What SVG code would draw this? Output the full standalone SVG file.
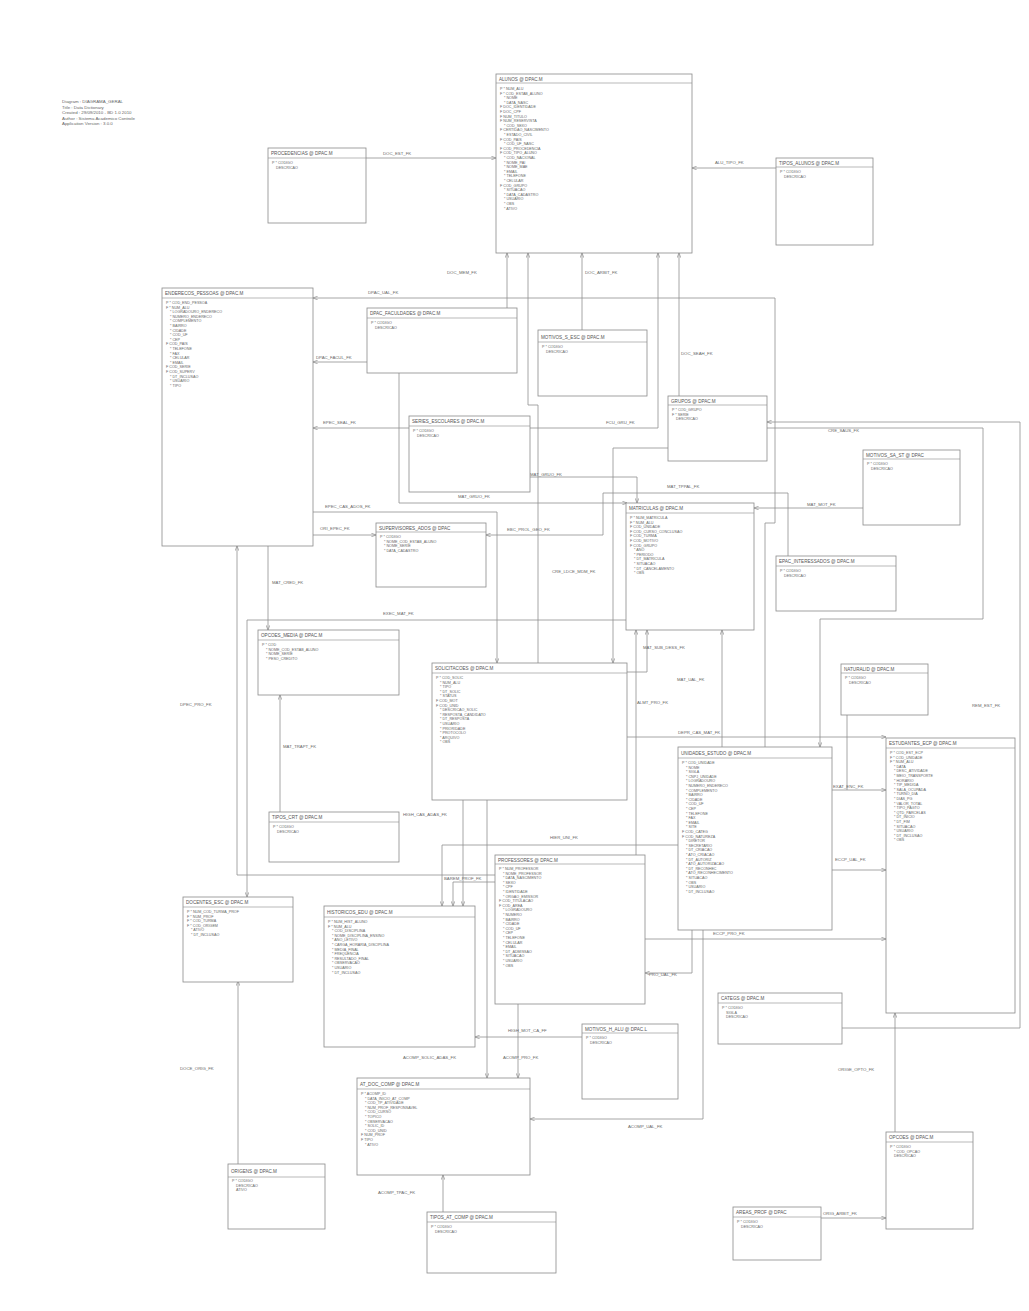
<svg xmlns="http://www.w3.org/2000/svg" width="1029" height="1311" viewBox="0 0 1029 1311">
<style>
.b{fill:#fff;stroke:#8a8a8a;stroke-width:0.8}
.h{stroke:#8a8a8a;stroke-width:0.6}
.t{font-family:"Liberation Sans",Arial,sans-serif;font-size:4.6px;fill:#555}
.a{font-family:"Liberation Sans",Arial,sans-serif;font-size:3.7px;fill:#666}
.c{fill:none;stroke:#8f8f8f;stroke-width:0.8}
.l{font-family:"Liberation Sans",Arial,sans-serif;font-size:4.3px;fill:#666}
.n{font-family:"Liberation Sans",Arial,sans-serif;font-size:4.4px;fill:#666}
</style>
<defs>
<marker id="ar" viewBox="0 0 10 10" refX="10" refY="5" markerWidth="6" markerHeight="6" orient="auto"><path d="M0,1 L10,5 L0,9" fill="none" stroke="#8a8a8a" stroke-width="1.4"/></marker>
</defs>
<rect width="1029" height="1311" fill="#fff"/>

<g id="notes"><text class="n" x="62" y="103"><tspan x="62" dy="0">Diagram : DIAGRAMA_GERAL</tspan><tspan x="62" dy="5.6">Title : Data Dictionary</tspan><tspan x="62" dy="5.6">Created : 29/09/2010 - BD 1.0 2010</tspan><tspan x="62" dy="5.6">Author : Sistema Academico Controle</tspan><tspan x="62" dy="5.6">Application Version : 3.0.0</tspan></text></g>

<g id="connectors">
<path class="c" marker-end="url(#ar)" d="M366,158 H496"/><text class="l" x="383" y="155">DOC_EST_FK</text>
<path class="c" marker-end="url(#ar)" d="M776,168 H692"/><text class="l" x="715" y="164">ALU_TIPO_FK</text>
<path class="c" marker-end="url(#ar)" d="M765,747 V523 H775 V298 H313"/><text class="l" x="368" y="294">DPAC_UAL_FK</text>
<path class="c" marker-end="url(#ar)" d="M507,308 V253"/><text class="l" x="447" y="274">DOC_MEM_FK</text>
<path class="c" marker-end="url(#ar)" d="M538,663 V405 H528 V253"/>
<path class="c" marker-end="url(#ar)" d="M582,330 V253"/><text class="l" x="585" y="274">DOC_ARBIT_FK</text>
<path class="c" marker-end="url(#ar)" d="M409,428 H313"/><text class="l" x="323" y="424">EPEC_SEAL_FK</text>
<path class="c" marker-end="url(#ar)" d="M530,428 H658 V253"/><text class="l" x="606" y="424">FCU_GRU_FK</text>
<path class="c" marker-end="url(#ar)" d="M679,396 V253"/><text class="l" x="681" y="355">DOC_SEAH_FK</text>
<path class="c" marker-end="url(#ar)" d="M367,362 H313"/><text class="l" x="316" y="359">DPAC_FACUL_FK</text>
<path class="c" marker-end="url(#ar)" d="M842,1028 H1020 V422 H767"/><text class="l" x="972" y="707">REM_EST_FK</text>
<path class="c" marker-end="url(#ar)" d="M767,428 H983 V619 H820 V747"/><text class="l" x="828" y="432">CRE_SAUS_FK</text>
<path class="c" marker-end="url(#ar)" d="M863,508 H754"/><text class="l" x="807" y="506">MAT_MOT_FK</text>
<path class="c" marker-end="url(#ar)" d="M528,477 H637 V503"/><text class="l" x="530" y="476">MAT_GRUO_FK</text>
<path class="c" marker-end="url(#ar)" d="M399,373 V503 H627"/><text class="l" x="458" y="498">MAT_GRUO_FK</text>
<path class="c" marker-end="url(#ar)" d="M788,556 V493 H603 V535 H486"/><text class="l" x="507" y="531">EBC_PROL_GEO_FK</text><text class="l" x="667" y="488">MAT_TPPAL_FK</text>
<path class="c" marker-end="url(#ar)" d="M313,535 H376"/><text class="l" x="320" y="530">ORI_EPEC_FK</text>
<path class="c" marker-end="url(#ar)" d="M313,512 H497 V663"/><text class="l" x="325" y="508">EPEC_CAS_ADOS_FK</text>
<path class="c" marker-end="url(#ar)" d="M668,448 H613 V663"/><text class="l" x="552" y="573">CRE_LDCE_MDM_FK</text>
<path class="c" marker-end="url(#ar)" d="M268,546 V630"/><text class="l" x="272" y="584">MAT_CRED_FK</text>
<path class="c" marker-end="url(#ar)" d="M627,620 H247 V897"/><text class="l" x="383" y="615">EXEC_MAT_FK</text>
<path class="c" marker-end="url(#ar)" d="M495,875 H237 V546"/><text class="l" x="180" y="706">DPEC_PRO_FK</text>
<path class="c" marker-end="url(#ar)" d="M280,812 V695"/><text class="l" x="283" y="748">MAT_TRAPT_FK</text>
<path class="c" marker-end="url(#ar)" d="M463,800 V906"/><text class="l" x="403" y="816">HIGH_CAS_ADAS_FK</text>
<path class="c" marker-end="url(#ar)" d="M487,800 V1078"/><text class="l" x="403" y="1059">ACOMP_SOLIC_ADAS_FK</text>
<path class="c" marker-end="url(#ar)" d="M678,845 H442 V906"/><text class="l" x="550" y="839">HIER_UNI_FK</text>
<path class="c" marker-end="url(#ar)" d="M495,882 H453 V906"/><text class="l" x="444" y="880">BAREM_PROF_FK</text>
<path class="c" marker-end="url(#ar)" d="M518,1004 V1078"/><text class="l" x="503" y="1059">ACOMP_PRO_FK</text>
<path class="c" marker-end="url(#ar)" d="M582,1037 H475"/><text class="l" x="508" y="1032">HIGH_MOT_CA_FF</text>
<path class="c" marker-end="url(#ar)" d="M703,930 V1119 H530"/><text class="l" x="628" y="1128">ACOMP_UAL_FK</text>
<path class="c" marker-end="url(#ar)" d="M692,930 V973 H645"/><text class="l" x="649" y="976">PRO_UAL_FK</text>
<path class="c" marker-end="url(#ar)" d="M645,939 H886"/><text class="l" x="713" y="935">ECCP_PRO_FK</text>
<path class="c" marker-end="url(#ar)" d="M830,870 H886"/><text class="l" x="835" y="861">ECCP_UAL_FK</text>
<path class="c" marker-end="url(#ar)" d="M847,715 V790 H886"/><path class="c" d="M830,790 H847"/><text class="l" x="833" y="788">EXAT_ENC_FK</text>
<path class="c" marker-end="url(#ar)" d="M626,737 H886"/><text class="l" x="678" y="734">DEPR_CAS_MAT_FK</text>
<path class="c" marker-end="url(#ar)" d="M722,747 V630"/><text class="l" x="677" y="681">MAT_UAL_FK</text>
<path class="c" marker-end="url(#ar)" d="M636,855 V630"/><text class="l" x="637" y="704">ALMT_PRO_FK</text>
<path class="c" marker-end="url(#ar)" d="M626,672 H647 V630"/><text class="l" x="643" y="649">MAT_SUB_DESS_FK</text>
<path class="c" marker-end="url(#ar)" d="M238,1164 V981"/><text class="l" x="180" y="1070">DOCE_ORIG_FK</text>
<path class="c" marker-end="url(#ar)" d="M443,1212 V1175"/><text class="l" x="378" y="1194">ACOMP_TPAC_FK</text>
<path class="c" marker-end="url(#ar)" d="M821,1218 H886"/><text class="l" x="823" y="1215">ORIG_ARBIT_FK</text>
<path class="c" marker-end="url(#ar)" d="M895,1132 V1013"/><text class="l" x="838" y="1071">ORIGE_OPTO_FK</text>
</g>

<g id="n_procedencias"><rect class="b" x="268" y="148" width="98" height="75"/><line class="h" x1="268" y1="158" x2="366" y2="158"/><text class="t" x="271" y="155">PROCEDENCIAS @ DPAC.M</text><text class="a" x="272" y="164"><tspan x="272" dy="0">P * CODIGO</tspan><tspan x="276" dy="4.6">DESCRICAO</tspan></text></g>

<g id="n_alunos"><rect class="b" x="496" y="74" width="196" height="179"/><line class="h" x1="496" y1="83" x2="692" y2="83"/><text class="t" x="499" y="80.5">ALUNOS @ DPAC.M</text><text class="a" x="500" y="90"><tspan x="500" dy="0">P * NUM_ALU</tspan><tspan x="500" dy="4.6">F * COD_ESTAB_ALUNO</tspan><tspan x="504" dy="4.6">* NOME</tspan><tspan x="504" dy="4.6">* DATA_NASC</tspan><tspan x="500" dy="4.6">F DOC_IDENTIDADE</tspan><tspan x="500" dy="4.6">F DOC_CPF</tspan><tspan x="500" dy="4.6">F NUM_TITULO</tspan><tspan x="500" dy="4.6">F NUM_RESERVISTA</tspan><tspan x="504" dy="4.6">* COD_SEXO</tspan><tspan x="500" dy="4.6">F CERTIDAO_NASCIMENTO</tspan><tspan x="504" dy="4.6">* ESTADO_CIVIL</tspan><tspan x="500" dy="4.6">F COD_PAIS</tspan><tspan x="504" dy="4.6">* COD_UF_NASC</tspan><tspan x="500" dy="4.6">F COD_PROCEDENCIA</tspan><tspan x="500" dy="4.6">F COD_TIPO_ALUNO</tspan><tspan x="504" dy="4.6">* COD_NACIONAL</tspan><tspan x="504" dy="4.6">* NOME_PAI</tspan><tspan x="504" dy="4.6">* NOME_MAE</tspan><tspan x="504" dy="4.6">* EMAIL</tspan><tspan x="504" dy="4.6">* TELEFONE</tspan><tspan x="504" dy="4.6">* CELULAR</tspan><tspan x="500" dy="4.6">F COD_GRUPO</tspan><tspan x="504" dy="4.6">* SITUACAO</tspan><tspan x="504" dy="4.6">* DATA_CADASTRO</tspan><tspan x="504" dy="4.6">* USUARIO</tspan><tspan x="504" dy="4.6">* OBS</tspan><tspan x="504" dy="4.6">* ATIVO</tspan></text></g>

<g id="n_tipos_alunos"><rect class="b" x="776" y="158" width="97" height="87"/><line class="h" x1="776" y1="167" x2="873" y2="167"/><text class="t" x="779" y="164.5">TIPOS_ALUNOS @ DPAC.M</text><text class="a" x="780" y="173"><tspan x="780" dy="0">P * CODIGO</tspan><tspan x="784" dy="4.6">DESCRICAO</tspan></text></g>

<g id="n_enderecos"><rect class="b" x="162" y="288" width="151" height="258"/><line class="h" x1="162" y1="298" x2="313" y2="298"/><text class="t" x="165" y="295">ENDERECOS_PESSOAS @ DPAC.M</text><text class="a" x="166" y="304"><tspan x="166" dy="0">P * COD_END_PESSOA</tspan><tspan x="166" dy="4.6">F * NUM_ALU</tspan><tspan x="170" dy="4.6">* LOGRADOURO_ENDERECO</tspan><tspan x="170" dy="4.6">* NUMERO_ENDERECO</tspan><tspan x="170" dy="4.6">* COMPLEMENTO</tspan><tspan x="170" dy="4.6">* BAIRRO</tspan><tspan x="170" dy="4.6">* CIDADE</tspan><tspan x="170" dy="4.6">* COD_UF</tspan><tspan x="170" dy="4.6">* CEP</tspan><tspan x="166" dy="4.6">F COD_PAIS</tspan><tspan x="170" dy="4.6">* TELEFONE</tspan><tspan x="170" dy="4.6">* FAX</tspan><tspan x="170" dy="4.6">* CELULAR</tspan><tspan x="170" dy="4.6">* EMAIL</tspan><tspan x="166" dy="4.6">F COD_SERIE</tspan><tspan x="166" dy="4.6">F COD_SUPERV</tspan><tspan x="170" dy="4.6">* DT_INCLUSAO</tspan><tspan x="170" dy="4.6">* USUARIO</tspan><tspan x="170" dy="4.6">* TIPO</tspan></text></g>

<g id="n_faculdades"><rect class="b" x="367" y="308" width="150" height="65"/><line class="h" x1="367" y1="318" x2="517" y2="318"/><text class="t" x="370" y="315">DPAC_FACULDADES @ DPAC.M</text><text class="a" x="371" y="324"><tspan x="371" dy="0">P * CODIGO</tspan><tspan x="375" dy="4.6">DESCRICAO</tspan></text></g>

<g id="n_motivos_s_esc"><rect class="b" x="538" y="330" width="109" height="66"/><line class="h" x1="538" y1="342" x2="647" y2="342"/><text class="t" x="541" y="338.5">MOTIVOS_S_ESC @ DPAC.M</text><text class="a" x="542" y="348"><tspan x="542" dy="0">P * CODIGO</tspan><tspan x="546" dy="4.6">DESCRICAO</tspan></text></g>

<g id="n_grupos"><rect class="b" x="668" y="396" width="99" height="65"/><line class="h" x1="668" y1="405" x2="767" y2="405"/><text class="t" x="671" y="402.5">GRUPOS @ DPAC.M</text><text class="a" x="672" y="411"><tspan x="672" dy="0">P * COD_GRUPO</tspan><tspan x="672" dy="4.6">F * SERIE</tspan><tspan x="676" dy="4.6">DESCRICAO</tspan></text></g>

<g id="n_series"><rect class="b" x="409" y="416" width="121" height="76"/><line class="h" x1="409" y1="426" x2="530" y2="426"/><text class="t" x="412" y="423">SERIES_ESCOLARES @ DPAC.M</text><text class="a" x="413" y="432"><tspan x="413" dy="0">P * CODIGO</tspan><tspan x="417" dy="4.6">DESCRICAO</tspan></text></g>

<g id="n_motivos_sa"><rect class="b" x="863" y="450" width="97" height="75"/><line class="h" x1="863" y1="459" x2="960" y2="459"/><text class="t" x="866" y="456.5">MOTIVOS_SA_ST @ DPAC</text><text class="a" x="867" y="465"><tspan x="867" dy="0">P * CODIGO</tspan><tspan x="871" dy="4.6">DESCRICAO</tspan></text></g>

<g id="n_supervisores"><rect class="b" x="376" y="523" width="110" height="64"/><line class="h" x1="376" y1="532" x2="486" y2="532"/><text class="t" x="379" y="529.5">SUPERVISORES_ADOS @ DPAC</text><text class="a" x="380" y="538"><tspan x="380" dy="0">P * CODIGO</tspan><tspan x="384" dy="4.6">* NOME_COD_ESTAB_ALUNO</tspan><tspan x="384" dy="4.6">* NOME_SERIE</tspan><tspan x="384" dy="4.6">* DATA_CADASTRO</tspan></text></g>

<g id="n_matriculas"><rect class="b" x="626" y="503" width="128" height="127"/><line class="h" x1="626" y1="513" x2="754" y2="513"/><text class="t" x="629" y="510">MATRICULAS @ DPAC.M</text><text class="a" x="630" y="519"><tspan x="630" dy="0">P * NUM_MATRICULA</tspan><tspan x="630" dy="4.6">F * NUM_ALU</tspan><tspan x="630" dy="4.6">F COD_UNIDADE</tspan><tspan x="630" dy="4.6">F COD_CURSO_CONCLUSAO</tspan><tspan x="630" dy="4.6">F COD_TURMA</tspan><tspan x="630" dy="4.6">F COD_MOTIVO</tspan><tspan x="630" dy="4.6">F COD_GRUPO</tspan><tspan x="634" dy="4.6">* ANO</tspan><tspan x="634" dy="4.6">* PERIODO</tspan><tspan x="634" dy="4.6">* DT_MATRICULA</tspan><tspan x="634" dy="4.6">* SITUACAO</tspan><tspan x="634" dy="4.6">* DT_CANCELAMENTO</tspan><tspan x="634" dy="4.6">* OBS</tspan></text></g>

<g id="n_interessados"><rect class="b" x="776" y="556" width="120" height="55"/><line class="h" x1="776" y1="566" x2="896" y2="566"/><text class="t" x="779" y="563">EPAC_INTERESSADOS @ DPAC.M</text><text class="a" x="780" y="572"><tspan x="780" dy="0">P * CODIGO</tspan><tspan x="784" dy="4.6">DESCRICAO</tspan></text></g>

<g id="n_opcoes_media"><rect class="b" x="258" y="630" width="141" height="65"/><line class="h" x1="258" y1="640" x2="399" y2="640"/><text class="t" x="261" y="637">OPCOES_MEDIA @ DPAC.M</text><text class="a" x="262" y="646"><tspan x="262" dy="0">P * COD</tspan><tspan x="266" dy="4.6">* NOME_COD_ESTAB_ALUNO</tspan><tspan x="266" dy="4.6">* NOME_SERIE</tspan><tspan x="266" dy="4.6">* PESO_CREDITO</tspan></text></g>

<g id="n_solicitacoes"><rect class="b" x="432" y="663" width="195" height="137"/><line class="h" x1="432" y1="673" x2="627" y2="673"/><text class="t" x="435" y="670">SOLICITACOES @ DPAC.M</text><text class="a" x="436" y="679"><tspan x="436" dy="0">P * COD_SOLIC</tspan><tspan x="440" dy="4.6">* NUM_ALU</tspan><tspan x="440" dy="4.6">* TIPO</tspan><tspan x="440" dy="4.6">* DT_SOLIC</tspan><tspan x="440" dy="4.6">* STATUS</tspan><tspan x="436" dy="4.6">F COD_MOT</tspan><tspan x="436" dy="4.6">F COD_UNID</tspan><tspan x="440" dy="4.6">* DESCRICAO_SOLIC</tspan><tspan x="440" dy="4.6">* RESPOSTA_CANDIDATO</tspan><tspan x="440" dy="4.6">* DT_RESPOSTA</tspan><tspan x="440" dy="4.6">* USUARIO</tspan><tspan x="440" dy="4.6">* PRIORIDADE</tspan><tspan x="440" dy="4.6">* PROTOCOLO</tspan><tspan x="440" dy="4.6">* ARQUIVO</tspan><tspan x="440" dy="4.6">* OBS</tspan></text></g>

<g id="n_naturalidades"><rect class="b" x="841" y="664" width="87" height="51"/><line class="h" x1="841" y1="673" x2="928" y2="673"/><text class="t" x="844" y="670.5">NATURALID @ DPAC.M</text><text class="a" x="845" y="679"><tspan x="845" dy="0">P * CODIGO</tspan><tspan x="849" dy="4.6">DESCRICAO</tspan></text></g>

<g id="n_tipos_crt"><rect class="b" x="269" y="812" width="130" height="50"/><line class="h" x1="269" y1="822" x2="399" y2="822"/><text class="t" x="272" y="819">TIPOS_CRT @ DPAC.M</text><text class="a" x="273" y="828"><tspan x="273" dy="0">P * CODIGO</tspan><tspan x="277" dy="4.6">DESCRICAO</tspan></text></g>

<g id="n_unidades"><rect class="b" x="678" y="747" width="154" height="183"/><line class="h" x1="678" y1="758" x2="832" y2="758"/><text class="t" x="681" y="755">UNIDADES_ESTUDO @ DPAC.M</text><text class="a" x="682" y="764"><tspan x="682" dy="0">P * COD_UNIDADE</tspan><tspan x="686" dy="4.6">* NOME</tspan><tspan x="686" dy="4.6">* SIGLA</tspan><tspan x="686" dy="4.6">* CNPJ_UNIDADE</tspan><tspan x="686" dy="4.6">* LOGRADOURO</tspan><tspan x="686" dy="4.6">* NUMERO_ENDERECO</tspan><tspan x="686" dy="4.6">* COMPLEMENTO</tspan><tspan x="686" dy="4.6">* BAIRRO</tspan><tspan x="686" dy="4.6">* CIDADE</tspan><tspan x="686" dy="4.6">* COD_UF</tspan><tspan x="686" dy="4.6">* CEP</tspan><tspan x="686" dy="4.6">* TELEFONE</tspan><tspan x="686" dy="4.6">* FAX</tspan><tspan x="686" dy="4.6">* EMAIL</tspan><tspan x="686" dy="4.6">* SITE</tspan><tspan x="682" dy="4.6">F COD_CATEG</tspan><tspan x="682" dy="4.6">F COD_NATUREZA</tspan><tspan x="686" dy="4.6">* DIRETOR</tspan><tspan x="686" dy="4.6">* SECRETARIO</tspan><tspan x="686" dy="4.6">* DT_CRIACAO</tspan><tspan x="686" dy="4.6">* ATO_CRIACAO</tspan><tspan x="686" dy="4.6">* DT_AUTORIZ</tspan><tspan x="686" dy="4.6">* ATO_AUTORIZACAO</tspan><tspan x="686" dy="4.6">* DT_RECONHEC</tspan><tspan x="686" dy="4.6">* ATO_RECONHECIMENTO</tspan><tspan x="686" dy="4.6">* SITUACAO</tspan><tspan x="686" dy="4.6">* OBS</tspan><tspan x="686" dy="4.6">* USUARIO</tspan><tspan x="686" dy="4.6">* DT_INCLUSAO</tspan></text></g>

<g id="n_estudantes"><rect class="b" x="886" y="738" width="129" height="275"/><line class="h" x1="886" y1="748" x2="1015" y2="748"/><text class="t" x="889" y="745">ESTUDANTES_ECP @ DPAC.M</text><text class="a" x="890" y="754"><tspan x="890" dy="0">P * COD_EST_ECP</tspan><tspan x="890" dy="4.6">F * COD_UNIDADE</tspan><tspan x="890" dy="4.6">F * NUM_ALU</tspan><tspan x="894" dy="4.6">* DATA</tspan><tspan x="894" dy="4.6">* DESC_ATIVIDADE</tspan><tspan x="894" dy="4.6">* MEIO_TRANSPORTE</tspan><tspan x="894" dy="4.6">* HORARIO</tspan><tspan x="894" dy="4.6">* TIP_MEDIDA</tspan><tspan x="894" dy="4.6">* SALA_OCUPADA</tspan><tspan x="894" dy="4.6">* TURNO_DIA</tspan><tspan x="894" dy="4.6">* DIAS_PG</tspan><tspan x="894" dy="4.6">* VALOR_TOTAL</tspan><tspan x="894" dy="4.6">* TIPO_PAGTO</tspan><tspan x="894" dy="4.6">* QTD_PARCELAS</tspan><tspan x="894" dy="4.6">* DT_INICIO</tspan><tspan x="894" dy="4.6">* DT_FIM</tspan><tspan x="894" dy="4.6">* SITUACAO</tspan><tspan x="894" dy="4.6">* USUARIO</tspan><tspan x="894" dy="4.6">* DT_INCLUSAO</tspan><tspan x="894" dy="4.6">* OBS</tspan></text></g>

<g id="n_professores"><rect class="b" x="495" y="855" width="150" height="149"/><line class="h" x1="495" y1="864" x2="645" y2="864"/><text class="t" x="498" y="861.5">PROFESSORES @ DPAC.M</text><text class="a" x="499" y="870"><tspan x="499" dy="0">P * NUM_PROFESSOR</tspan><tspan x="503" dy="4.6">* NOME_PROFESSOR</tspan><tspan x="503" dy="4.6">* DATA_NASCIMENTO</tspan><tspan x="503" dy="4.6">* SEXO</tspan><tspan x="503" dy="4.6">* CPF</tspan><tspan x="503" dy="4.6">* IDENTIDADE</tspan><tspan x="503" dy="4.6">* ORGAO_EMISSOR</tspan><tspan x="499" dy="4.6">F COD_TITULACAO</tspan><tspan x="499" dy="4.6">F COD_AREA</tspan><tspan x="503" dy="4.6">* LOGRADOURO</tspan><tspan x="503" dy="4.6">* NUMERO</tspan><tspan x="503" dy="4.6">* BAIRRO</tspan><tspan x="503" dy="4.6">* CIDADE</tspan><tspan x="503" dy="4.6">* COD_UF</tspan><tspan x="503" dy="4.6">* CEP</tspan><tspan x="503" dy="4.6">* TELEFONE</tspan><tspan x="503" dy="4.6">* CELULAR</tspan><tspan x="503" dy="4.6">* EMAIL</tspan><tspan x="503" dy="4.6">* DT_ADMISSAO</tspan><tspan x="503" dy="4.6">* SITUACAO</tspan><tspan x="503" dy="4.6">* USUARIO</tspan><tspan x="503" dy="4.6">* OBS</tspan></text></g>

<g id="n_docentes"><rect class="b" x="183" y="897" width="110" height="85"/><line class="h" x1="183" y1="907" x2="293" y2="907"/><text class="t" x="186" y="904">DOCENTES_ESC @ DPAC.M</text><text class="a" x="187" y="913"><tspan x="187" dy="0">P * NUM_COD_TURMA_PROF</tspan><tspan x="187" dy="4.6">F * NUM_PROF</tspan><tspan x="187" dy="4.6">F * COD_TURMA</tspan><tspan x="187" dy="4.6">F * COD_ORIGEM</tspan><tspan x="191" dy="4.6">* ATIVO</tspan><tspan x="191" dy="4.6">* DT_INCLUSAO</tspan></text></g>

<g id="n_historicos"><rect class="b" x="324" y="906" width="151" height="141"/><line class="h" x1="324" y1="917" x2="475" y2="917"/><text class="t" x="327" y="914">HISTORICOS_EDU @ DPAC.M</text><text class="a" x="328" y="923"><tspan x="328" dy="0">P * NUM_HIST_ALUNO</tspan><tspan x="328" dy="4.6">F * NUM_ALU</tspan><tspan x="332" dy="4.6">* COD_DISCIPLINA</tspan><tspan x="332" dy="4.6">* NOME_DISCIPLINA_ENSINO</tspan><tspan x="332" dy="4.6">* ANO_LETIVO</tspan><tspan x="332" dy="4.6">* CARGA_HORARIA_DISCIPLINA</tspan><tspan x="332" dy="4.6">* MEDIA_FINAL</tspan><tspan x="332" dy="4.6">* FREQUENCIA</tspan><tspan x="332" dy="4.6">* RESULTADO_FINAL</tspan><tspan x="332" dy="4.6">* OBSERVACAO</tspan><tspan x="332" dy="4.6">* USUARIO</tspan><tspan x="332" dy="4.6">* DT_INCLUSAO</tspan></text></g>

<g id="n_categs"><rect class="b" x="718" y="993" width="124" height="51"/><line class="h" x1="718" y1="1003" x2="842" y2="1003"/><text class="t" x="721" y="1000">CATEGS @ DPAC.M</text><text class="a" x="722" y="1009"><tspan x="722" dy="0">P * CODIGO</tspan><tspan x="726" dy="4.6">SIGLA</tspan><tspan x="726" dy="4.6">DESCRICAO</tspan></text></g>

<g id="n_motivos_h"><rect class="b" x="582" y="1024" width="96" height="75"/><line class="h" x1="582" y1="1033" x2="678" y2="1033"/><text class="t" x="585" y="1030.5">MOTIVOS_H_ALU @ DPAC.L</text><text class="a" x="586" y="1039"><tspan x="586" dy="0">P * CODIGO</tspan><tspan x="590" dy="4.6">DESCRICAO</tspan></text></g>

<g id="n_at_doc_comp"><rect class="b" x="357" y="1078" width="173" height="97"/><line class="h" x1="357" y1="1089" x2="530" y2="1089"/><text class="t" x="360" y="1086">AT_DOC_COMP @ DPAC.M</text><text class="a" x="361" y="1095"><tspan x="361" dy="0">P * ACOMP_ID</tspan><tspan x="365" dy="4.6">* DATA_INICIO_AT_COMP</tspan><tspan x="365" dy="4.6">* COD_TP_ATIVIDADE</tspan><tspan x="365" dy="4.6">* NUM_PROF_RESPONSAVEL</tspan><tspan x="365" dy="4.6">* COD_CURSO</tspan><tspan x="365" dy="4.6">* TOPICO</tspan><tspan x="365" dy="4.6">* OBSERVACAO</tspan><tspan x="365" dy="4.6">* SOLIC_ID</tspan><tspan x="365" dy="4.6">* COD_UNID</tspan><tspan x="361" dy="4.6">F NUM_PROF</tspan><tspan x="361" dy="4.6">F TIPO</tspan><tspan x="365" dy="4.6">* ATIVO</tspan></text></g>

<g id="n_opcoes"><rect class="b" x="886" y="1132" width="87" height="97"/><line class="h" x1="886" y1="1142" x2="973" y2="1142"/><text class="t" x="889" y="1139">OPCOES @ DPAC.M</text><text class="a" x="890" y="1148"><tspan x="890" dy="0">P * CODIGO</tspan><tspan x="894" dy="4.6">* COD_OPCAO</tspan><tspan x="894" dy="4.6">DESCRICAO</tspan></text></g>

<g id="n_origens"><rect class="b" x="228" y="1164" width="97" height="65"/><line class="h" x1="228" y1="1177" x2="325" y2="1177"/><text class="t" x="231" y="1173">ORIGENS @ DPAC.M</text><text class="a" x="232" y="1182"><tspan x="232" dy="0">P * CODIGO</tspan><tspan x="236" dy="4.6">DESCRICAO</tspan><tspan x="236" dy="4.6">ATIVO</tspan></text></g>

<g id="n_tipos_at_comp"><rect class="b" x="427" y="1212" width="129" height="61"/><line class="h" x1="427" y1="1222" x2="556" y2="1222"/><text class="t" x="430" y="1219">TIPOS_AT_COMP @ DPAC.M</text><text class="a" x="431" y="1228"><tspan x="431" dy="0">P * CODIGO</tspan><tspan x="435" dy="4.6">DESCRICAO</tspan></text></g>

<g id="n_areas_prof"><rect class="b" x="733" y="1207" width="88" height="53"/><line class="h" x1="733" y1="1217" x2="821" y2="1217"/><text class="t" x="736" y="1214">AREAS_PROF @ DPAC</text><text class="a" x="737" y="1223"><tspan x="737" dy="0">P * CODIGO</tspan><tspan x="741" dy="4.6">DESCRICAO</tspan></text></g>
</svg>
